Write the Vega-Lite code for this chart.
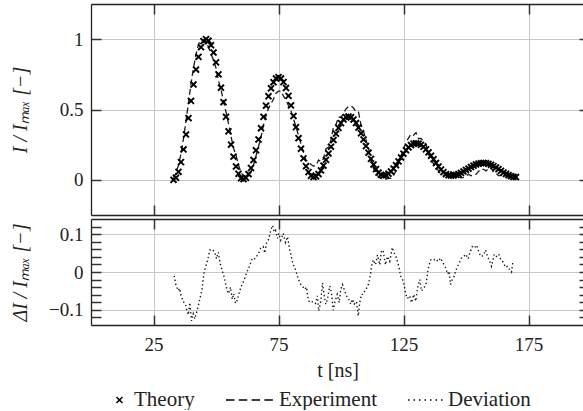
{
  "$schema": "https://vega.github.io/schema/vega-lite/v6.json",
  "background": "white",
  "padding": {"left": 10, "top": 3, "right": 0, "bottom": 0},
  "bounds": "flush",
  "spacing": 4,
  "config": {
    "view": {"stroke": null},
    "font": "serif",
    "axis": {
      "labelFont": "serif", "labelFontSize": 19, "labelColor": "#222",
      "titleFont": "Liberation Serif", "titleFontSize": 20, "titleFontWeight": "normal", "titleColor": "#222",
      "gridColor": "#c8c8c8", "gridWidth": 1, "gridOpacity": 1,
      "domainColor": "#222", "domainWidth": 1.3,
      "tickColor": "#333", "tickWidth": 1.5, "tickSize": -10,
      "labelPadding": 18
    },
    "legend": {
      "labelFont": "Times New Roman", "labelFontSize": 21, "labelColor": "#222",
      "symbolStrokeWidth": 1.5, "labelOffset": 4, "columnPadding": 30, "clipHeight": 20
    }
  },
  "datasets": {
    "theory": [
      {"t":33,"v":0},{"t":34,"v":0.0145},{"t":35,"v":0.057},{"t":36,"v":0.126},{"t":37,"v":0.216},{"t":38,"v":0.322},{"t":39,"v":0.439},{"t":40,"v":0.561},{"t":41,"v":0.678},{"t":42,"v":0.784},{"t":43,"v":0.874},{"t":44,"v":0.943},{"t":45,"v":0.986},{"t":46,"v":1},{"t":47,"v":0.989},{"t":48,"v":0.957},{"t":49,"v":0.905},{"t":50,"v":0.835},{"t":51,"v":0.75},{"t":52,"v":0.655},{"t":53,"v":0.552},{"t":54,"v":0.448},{"t":55,"v":0.345},{"t":56,"v":0.25},{"t":57,"v":0.165},{"t":58,"v":0.095},{"t":59,"v":0.043},{"t":60,"v":0.011},{"t":61,"v":0.005},{"t":62,"v":0.014},{"t":63,"v":0.041},{"t":64,"v":0.084},{"t":65,"v":0.141},{"t":66,"v":0.21},{"t":67,"v":0.287},{"t":68,"v":0.367},{"t":69,"v":0.448},{"t":70,"v":0.527},{"t":71,"v":0.594},{"t":72,"v":0.651},{"t":73,"v":0.694},{"t":74,"v":0.721},{"t":75,"v":0.73},{"t":76,"v":0.721},{"t":77,"v":0.695},{"t":78,"v":0.653},{"t":79,"v":0.597},{"t":80,"v":0.529},{"t":81,"v":0.454},{"t":82,"v":0.375},{"t":83,"v":0.296},{"t":84,"v":0.221},{"t":85,"v":0.153},{"t":86,"v":0.097},{"t":87,"v":0.055},{"t":88,"v":0.029},{"t":89,"v":0.02},{"t":90,"v":0.025},{"t":91,"v":0.041},{"t":92,"v":0.067},{"t":93,"v":0.101},{"t":94,"v":0.142},{"t":95,"v":0.187},{"t":96,"v":0.235},{"t":97,"v":0.283},{"t":98,"v":0.328},{"t":99,"v":0.369},{"t":100,"v":0.403},{"t":101,"v":0.429},{"t":102,"v":0.445},{"t":103,"v":0.45},{"t":104,"v":0.445},{"t":105,"v":0.429},{"t":106,"v":0.404},{"t":107,"v":0.371},{"t":108,"v":0.331},{"t":109,"v":0.287},{"t":110,"v":0.24},{"t":111,"v":0.193},{"t":112,"v":0.149},{"t":113,"v":0.109},{"t":114,"v":0.076},{"t":115,"v":0.051},{"t":116,"v":0.035},{"t":117,"v":0.03},{"t":118,"v":0.033},{"t":119,"v":0.043},{"t":120,"v":0.059},{"t":121,"v":0.08},{"t":122,"v":0.104},{"t":123,"v":0.131},{"t":124,"v":0.159},{"t":125,"v":0.186},{"t":126,"v":0.21},{"t":127,"v":0.231},{"t":128,"v":0.247},{"t":129,"v":0.257},{"t":130,"v":0.26},{"t":131,"v":0.257},{"t":132,"v":0.249},{"t":133,"v":0.235},{"t":134,"v":0.217},{"t":135,"v":0.195},{"t":136,"v":0.171},{"t":137,"v":0.146},{"t":138,"v":0.12},{"t":139,"v":0.095},{"t":140,"v":0.073},{"t":141,"v":0.055},{"t":142,"v":0.041},{"t":143,"v":0.033},{"t":144,"v":0.03},{"t":145,"v":0.031},{"t":146,"v":0.035},{"t":147,"v":0.041},{"t":148,"v":0.049},{"t":149,"v":0.059},{"t":150,"v":0.07},{"t":151,"v":0.08},{"t":152,"v":0.091},{"t":153,"v":0.101},{"t":154,"v":0.109},{"t":155,"v":0.115},{"t":156,"v":0.119},{"t":157,"v":0.12},{"t":158,"v":0.119},{"t":159,"v":0.114},{"t":160,"v":0.107},{"t":161,"v":0.098},{"t":162,"v":0.088},{"t":163,"v":0.076},{"t":164,"v":0.064},{"t":165,"v":0.052},{"t":166,"v":0.042},{"t":167,"v":0.033},{"t":168,"v":0.026},{"t":169,"v":0.021},{"t":170,"v":0.02}
    ],
    "exp": [
      {"t":33,"v":0.01},{"t":34,"v":0.05},{"t":35,"v":0.104},{"t":36,"v":0.186},{"t":37,"v":0.294},{"t":38,"v":0.417},{"t":39,"v":0.549},{"t":40,"v":0.686},{"t":41,"v":0.796},{"t":42,"v":0.892},{"t":43,"v":0.962},{"t":44,"v":1.0},{"t":45,"v":0.996},{"t":46,"v":0.982},{"t":47,"v":0.944},{"t":48,"v":0.897},{"t":49,"v":0.849},{"t":50,"v":0.795},{"t":51,"v":0.705},{"t":52,"v":0.643},{"t":53,"v":0.56},{"t":54,"v":0.483},{"t":55,"v":0.4},{"t":56,"v":0.31},{"t":57,"v":0.225},{"t":58,"v":0.175},{"t":59,"v":0.105},{"t":60,"v":0.051},{"t":61,"v":0.03},{"t":62,"v":0.022},{"t":63,"v":0.031},{"t":64,"v":0.054},{"t":65,"v":0.105},{"t":66,"v":0.17},{"t":67,"v":0.237},{"t":68,"v":0.304},{"t":69,"v":0.39},{"t":70,"v":0.455},{"t":71,"v":0.509},{"t":72,"v":0.541},{"t":73,"v":0.574},{"t":74,"v":0.616},{"t":75,"v":0.63},{"t":76,"v":0.631},{"t":77,"v":0.595},{"t":78,"v":0.568},{"t":79,"v":0.527},{"t":80,"v":0.489},{"t":81,"v":0.435},{"t":82,"v":0.375},{"t":83,"v":0.316},{"t":84,"v":0.254},{"t":85,"v":0.195},{"t":86,"v":0.139},{"t":87,"v":0.13},{"t":88,"v":0.109},{"t":89,"v":0.098},{"t":90,"v":0.1},{"t":91,"v":0.141},{"t":92,"v":0.127},{"t":93,"v":0.151},{"t":94,"v":0.222},{"t":95,"v":0.232},{"t":96,"v":0.285},{"t":97,"v":0.378},{"t":98,"v":0.393},{"t":99,"v":0.447},{"t":100,"v":0.443},{"t":101,"v":0.472},{"t":102,"v":0.505},{"t":103,"v":0.522},{"t":104,"v":0.525},{"t":105,"v":0.511},{"t":106,"v":0.482},{"t":107,"v":0.481},{"t":108,"v":0.391},{"t":109,"v":0.345},{"t":110,"v":0.284},{"t":111,"v":0.223},{"t":112,"v":0.139},{"t":113,"v":0.079},{"t":114,"v":0.056},{"t":115,"v":0.02},{"t":116,"v":0.01},{"t":117,"v":0.005},{"t":118,"v":0.005},{"t":119,"v":0.01},{"t":120,"v":0.01},{"t":121,"v":0.03},{"t":122,"v":0.067},{"t":123,"v":0.116},{"t":124,"v":0.171},{"t":125,"v":0.216},{"t":126,"v":0.268},{"t":127,"v":0.297},{"t":128,"v":0.325},{"t":129,"v":0.317},{"t":130,"v":0.335},{"t":131,"v":0.292},{"t":132,"v":0.294},{"t":133,"v":0.277},{"t":134,"v":0.252},{"t":135,"v":0.183},{"t":136,"v":0.139},{"t":137,"v":0.116},{"t":138,"v":0.085},{"t":139,"v":0.065},{"t":140,"v":0.036},{"t":141,"v":0.033},{"t":142,"v":0.031},{"t":143,"v":0.033},{"t":144,"v":0.058},{"t":145,"v":0.043},{"t":146,"v":0.03},{"t":147,"v":0.021},{"t":148,"v":0.014},{"t":149,"v":0.018},{"t":150,"v":0.025},{"t":151,"v":0.04},{"t":152,"v":0.029},{"t":153,"v":0.037},{"t":154,"v":0.039},{"t":155,"v":0.06},{"t":156,"v":0.077},{"t":157,"v":0.075},{"t":158,"v":0.064},{"t":159,"v":0.079},{"t":160,"v":0.089},{"t":161,"v":0.053},{"t":162,"v":0.046},{"t":163,"v":0.03},{"t":164,"v":0.032},{"t":165,"v":0.027},{"t":166,"v":0.029},{"t":167,"v":0.021},{"t":168,"v":0.023},{"t":169,"v":0.01}
    ],
    "dev": [
      {"t":33.3,"v":-0.01},{"t":33.8,"v":-0.029},{"t":34.0,"v":-0.035},{"t":34.9,"v":-0.049},{"t":35.5,"v":-0.043},{"t":35.9,"v":-0.059},{"t":36.9,"v":-0.078},{"t":37.8,"v":-0.085},{"t":38.2,"v":-0.098},{"t":38.9,"v":-0.113},{"t":39.5,"v":-0.081},{"t":40.2,"v":-0.129},{"t":40.9,"v":-0.11},{"t":41.5,"v":-0.124},{"t":42.2,"v":-0.108},{"t":42.9,"v":-0.09},{"t":43.9,"v":-0.061},{"t":44.5,"v":-0.042},{"t":44.9,"v":-0.017},{"t":45.3,"v":0.002},{"t":46.2,"v":0.021},{"t":46.9,"v":0.039},{"t":47.5,"v":0.058},{"t":48.5,"v":0.06},{"t":49.5,"v":0.052},{"t":50.2,"v":0.035},{"t":50.9,"v":0.052},{"t":51.8,"v":0.019},{"t":52.6,"v":0.002},{"t":53.3,"v":-0.014},{"t":53.9,"v":-0.033},{"t":54.5,"v":-0.05},{"t":55.1,"v":-0.057},{"t":55.8,"v":-0.04},{"t":56.5,"v":-0.072},{"t":57.1,"v":-0.057},{"t":57.8,"v":-0.083},{"t":58.5,"v":-0.075},{"t":59.1,"v":-0.059},{"t":59.8,"v":-0.043},{"t":60.5,"v":-0.031},{"t":61.1,"v":-0.024},{"t":61.8,"v":-0.011},{"t":62.5,"v":0.002},{"t":63.5,"v":0.017},{"t":64.5,"v":0.037},{"t":65.5,"v":0.035},{"t":66.2,"v":0.041},{"t":67.1,"v":0.05},{"t":67.9,"v":0.063},{"t":68.9,"v":0.067},{"t":69.5,"v":0.05},{"t":70.2,"v":0.076},{"t":71.1,"v":0.087},{"t":71.9,"v":0.11},{"t":72.6,"v":0.123},{"t":73.3,"v":0.106},{"t":73.8,"v":0.11},{"t":74.6,"v":0.089},{"t":75.1,"v":0.102},{"t":75.9,"v":0.084},{"t":76.9,"v":0.102},{"t":77.8,"v":0.078},{"t":78.6,"v":0.093},{"t":79.5,"v":0.058},{"t":80.2,"v":0.038},{"t":80.9,"v":0.019},{"t":81.8,"v":0.006},{"t":82.6,"v":-0.011},{"t":83.5,"v":-0.029},{"t":84.5,"v":-0.037},{"t":85.5,"v":-0.046},{"t":86.2,"v":-0.04},{"t":86.9,"v":-0.075},{"t":87.8,"v":-0.081},{"t":88.9,"v":-0.078},{"t":89.8,"v":-0.083},{"t":90.5,"v":-0.063},{"t":91.1,"v":-0.103},{"t":91.9,"v":-0.077},{"t":92.6,"v":-0.029},{"t":93.3,"v":-0.063},{"t":93.9,"v":-0.085},{"t":94.6,"v":-0.072},{"t":95.5,"v":-0.037},{"t":96.2,"v":-0.055},{"t":96.9,"v":-0.101},{"t":97.5,"v":-0.081},{"t":98.5,"v":-0.059},{"t":99.3,"v":-0.081},{"t":99.9,"v":-0.046},{"t":100.6,"v":-0.033},{"t":101.3,"v":-0.046},{"t":102.2,"v":-0.063},{"t":103.1,"v":-0.072},{"t":103.9,"v":-0.085},{"t":104.6,"v":-0.072},{"t":105.3,"v":-0.085},{"t":106.2,"v":-0.078},{"t":106.9,"v":-0.116},{"t":107.5,"v":-0.081},{"t":108.2,"v":-0.059},{"t":108.9,"v":-0.059},{"t":109.8,"v":-0.046},{"t":110.6,"v":-0.04},{"t":111.1,"v":-0.029},{"t":111.8,"v":-0.007},{"t":112.2,"v":0.015},{"t":112.9,"v":0.032},{"t":113.8,"v":0.019},{"t":114.6,"v":0.045},{"t":115.5,"v":0.019},{"t":116.2,"v":0.058},{"t":116.9,"v":0.054},{"t":117.8,"v":0.019},{"t":118.6,"v":0.041},{"t":119.5,"v":0.028},{"t":120.5,"v":0.065},{"t":121.3,"v":0.05},{"t":122.2,"v":0.037},{"t":123.1,"v":0.015},{"t":123.9,"v":-0.011},{"t":124.5,"v":-0.017},{"t":125.3,"v":-0.035},{"t":125.9,"v":-0.059},{"t":126.6,"v":-0.07},{"t":127.5,"v":-0.063},{"t":128.2,"v":-0.081},{"t":129.1,"v":-0.059},{"t":129.9,"v":-0.077},{"t":130.6,"v":-0.043},{"t":131.5,"v":-0.02},{"t":132.2,"v":-0.05},{"t":133.1,"v":-0.042},{"t":133.9,"v":-0.035},{"t":134.6,"v":-0.005},{"t":135.1,"v":0.015},{"t":135.9,"v":0.032},{"t":136.9,"v":0.03},{"t":137.8,"v":0.035},{"t":138.9,"v":0.028},{"t":139.8,"v":0.037},{"t":140.9,"v":0.023},{"t":141.8,"v":0.012},{"t":142.6,"v":-0.005},{"t":143.3,"v":0.002},{"t":143.8,"v":-0.033},{"t":144.5,"v":-0.02},{"t":145.3,"v":-0.011},{"t":145.8,"v":0.002},{"t":146.6,"v":0.015},{"t":147.3,"v":0.023},{"t":148.2,"v":0.037},{"t":149.1,"v":0.041},{"t":149.9,"v":0.047},{"t":150.9,"v":0.035},{"t":151.5,"v":0.05},{"t":152.5,"v":0.067},{"t":153.3,"v":0.063},{"t":154.2,"v":0.071},{"t":155.1,"v":0.054},{"t":155.9,"v":0.041},{"t":156.9,"v":0.043},{"t":157.8,"v":0.058},{"t":158.6,"v":0.041},{"t":159.5,"v":0.028},{"t":160.2,"v":0.015},{"t":161.3,"v":0.047},{"t":162.2,"v":0.041},{"t":163.1,"v":0.047},{"t":163.9,"v":0.032},{"t":164.9,"v":0.026},{"t":165.8,"v":0.012},{"t":166.6,"v":0.015},{"t":167.5,"v":0.006},{"t":168.2,"v":0.0},{"t":168.8,"v":0.03}
    ]
  },
  "vconcat": [
    {
      "width": 493,
      "height": 211,
      "layer": [
        {
          "data": {"name": "exp"},
          "mark": {"type": "line", "color": "#1a1a1a", "strokeWidth": 1.3, "strokeDash": [6, 3.5]},
          "encoding": {
            "x": {"field": "t", "type": "quantitative", "scale": {"domain": [0, 197.2], "nice": false},
                  "axis": {"orient": "bottom", "values": [25, 75, 125, 175], "labels": false, "title": null, "grid": true}},
            "y": {"field": "v", "type": "quantitative", "scale": {"domain": [-0.25, 1.25], "nice": false, "zero": false},
                  "axis": {"orient": "left", "values": [0, 0.5, 1], "format": ".1~f",
                           "title": "I / Iₘₐₓ   [−]", "titleFontStyle": "italic", "titlePadding": 29, "grid": true}}
          }
        },
        {
          "data": {"name": "theory"},
          "mark": {"type": "point", "filled": false, "color": "#000", "strokeWidth": 1.9, "opacity": 1},
          "encoding": {
            "x": {"field": "t", "type": "quantitative",
                  "axis": {"orient": "top", "values": [25, 75, 125, 175], "labels": false, "title": null, "grid": false}},
            "y": {"field": "v", "type": "quantitative",
                  "axis": {"orient": "right", "values": [0, 0.5, 1], "labels": false, "title": null, "grid": false, "domain": false, "tickSize": -5}},
            "shape": {"datum": "Theory", "type": "nominal",
                      "scale": {"domain": ["Theory", "Experiment", "Deviation"], "range": ["M-1,-1L1,1M-1,1L1,-1", "stroke", "stroke"]},
                      "legend": {"title": null, "orient": "none", "direction": "horizontal", "legendX": 18, "legendY": 386,
                                 "clipHeight": 20, "columnPadding": 30}},
            "size": {"datum": "Theory", "type": "nominal",
                     "scale": {"type": "ordinal", "domain": ["Theory", "Experiment", "Deviation"], "range": [36, 2304, 1225]}},
            "strokeDash": {"datum": "Theory", "type": "nominal",
                           "scale": {"domain": ["Theory", "Experiment", "Deviation"], "range": [[1, 0], [8.5, 4.3], [1.5, 4]]}}
          }
        }
      ]
    },
    {
      "width": 493,
      "height": 106,
      "layer": [
        {
          "data": {"name": "dev"},
          "mark": {"type": "line", "color": "#1a1a1a", "strokeWidth": 1.4, "strokeDash": [1.4, 2.6]},
          "encoding": {
            "x": {"field": "t", "type": "quantitative", "scale": {"domain": [0, 197.2], "nice": false},
                  "axis": {"orient": "bottom", "values": [25, 75, 125, 175],
                           "title": "t  [ns]", "grid": true, "labelPadding": 20, "titlePadding": 6}},
            "y": {"field": "v", "type": "quantitative", "scale": {"domain": [-0.14, 0.14], "nice": false, "zero": false},
                  "axis": {"orient": "left", "values": [-0.12, -0.1, -0.08, -0.06, -0.04, -0.02, 0, 0.02, 0.04, 0.06, 0.08, 0.1, 0.12],
                           "format": ".2~f",
                           "labelExpr": "abs(datum.value*10-round(datum.value*10))<0.01 ? datum.label : ''",
                           "gridOpacity": {"condition": {"test": "abs(datum.value*10-round(datum.value*10))<0.01", "value": 1}, "value": 0},
                           "title": "ΔI / Iₘₐₓ   [−]", "titleFontStyle": "italic", "titlePadding": 18, "grid": true}}
          }
        },
        {
          "data": {"name": "dev"},
          "mark": {"type": "point", "opacity": 0},
          "encoding": {
            "x": {"field": "t", "type": "quantitative",
                  "axis": {"orient": "top", "values": [25, 75, 125, 175], "labels": false, "title": null, "grid": false}},
            "y": {"field": "v", "type": "quantitative",
                  "axis": {"orient": "right", "values": [-0.12, -0.1, -0.08, -0.06, -0.04, -0.02, 0, 0.02, 0.04, 0.06, 0.08, 0.1, 0.12], "labels": false, "title": null, "grid": false, "domain": false, "tickSize": -5}}
          }
        }
      ]
    }
  ]
}
